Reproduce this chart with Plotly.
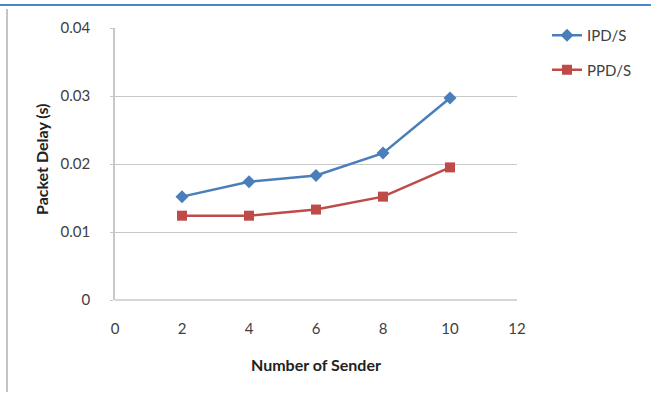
import plotly.graph_objects as go

# Number of senders vs. average packet delay
senders = [2, 4, 6, 8, 10]
ipd_s = [0.0152, 0.0174, 0.0183, 0.0216, 0.0297]
ppd_s = [0.0124, 0.0124, 0.0133, 0.0152, 0.0195]

x_ticks = [0, 2, 4, 6, 8, 10, 12]
y_ticks = [0, 0.01, 0.02, 0.03, 0.04]

W, H = 651, 394
L, R, T, B = 115, 134, 28, 94
PW, PH = W - L - R, H - T - B

def px_x(p):
    return (p - L) / PW

def px_y(p):
    return (H - B - p) / PH

FONT = "Lato, 'Open Sans', sans-serif"
TXT = "#404040"

fig = go.Figure()
fig.add_trace(go.Scatter(
    x=senders, y=ipd_s, name="IPD/S", mode="lines+markers",
    line=dict(color="#4a7ebb", width=2.5),
    marker=dict(symbol="diamond", size=10, color="#4a7ebb"),
    legendgroup="a",
))
fig.add_trace(go.Scatter(
    x=senders, y=ppd_s, name="PPD/S", mode="lines+markers",
    line=dict(color="#be4b48", width=2.5),
    marker=dict(symbol="square", size=10, color="#be4b48"),
    legendgroup="b",
))

fig.update_layout(
    width=W, height=H,
    margin=dict(l=L, r=R, t=T, b=B),
    paper_bgcolor="white", plot_bgcolor="white",
    font=dict(family=FONT, size=15, color=TXT),
    showlegend=True,
    legend=dict(
        x=px_x(547), y=px_y(19), xanchor="left", yanchor="top",
        font=dict(size=15, color=TXT),
        traceorder="grouped", tracegroupgap=12,
        bgcolor="rgba(0,0,0,0)",
    ),
    xaxis=dict(
        range=[0, 12], tickvals=x_ticks, ticktext=[str(v) for v in x_ticks],
        showgrid=False, zeroline=False,
        showline=False, ticks="", ticklabelstandoff=18,
        tickfont=dict(size=15, color=TXT),
    ),
    yaxis=dict(
        range=[0, 0.04], tickvals=y_ticks,
        ticktext=["0", "0.01", "0.02", "0.03", "0.04"],
        showgrid=True, gridcolor="#c8c8c8", gridwidth=1.2,
        zeroline=False, showline=True, linecolor="#c8c8c8", linewidth=1.5,
        ticks="outside", ticklen=3, tickcolor="#c8c8c8",
        ticklabelstandoff=17,
        tickfont=dict(size=15, color=TXT),
    ),
    annotations=[
        dict(text="<b>Packet Delay (s)</b>", xref="paper", yref="paper",
             x=px_x(41), y=px_y(159), showarrow=False, textangle=-90,
             xanchor="center", yanchor="middle",
             font=dict(size=16, color="#222222")),
        dict(text="<b>Number of Sender</b>", xref="paper", yref="paper",
             x=px_x(316), y=px_y(364), showarrow=False,
             xanchor="center", yanchor="middle",
             font=dict(size=16, color="#222222")),
    ],
    shapes=[
        # bottom axis line
        dict(type="line", xref="paper", yref="paper", x0=0, x1=1, y0=0, y1=0,
             line=dict(color="#c8c8c8", width=1.5)),
        # frame: blue top rule and grey left rule
        dict(type="line", xref="paper", yref="paper",
             x0=px_x(0), x1=px_x(W), y0=px_y(5), y1=px_y(5),
             line=dict(color="#4a86c8", width=2)),
        dict(type="line", xref="paper", yref="paper",
             x0=px_x(7), x1=px_x(7), y0=px_y(9), y1=px_y(392),
             line=dict(color="#c4c4c4", width=2)),
    ],
)

fig.write_html("out.html")
